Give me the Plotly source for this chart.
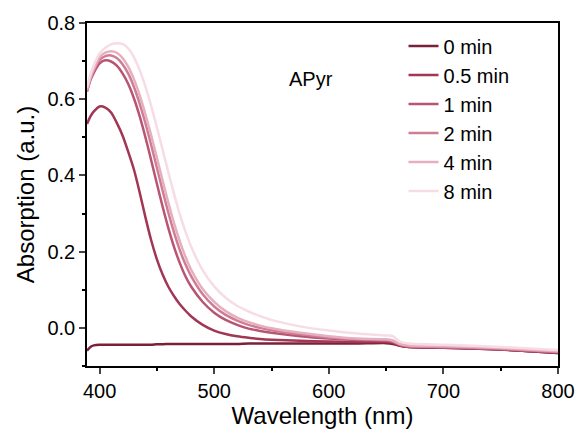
import plotly.graph_objects as go

wavelength = [389, 392, 395, 400, 405, 410, 415, 420, 425, 430, 435, 440, 445, 450, 455, 460, 465,
              470, 475, 480, 490, 500, 510, 520, 530, 540, 550, 575, 600, 625, 650, 656,
              662, 670, 700, 750, 800]

abs_0min = [-0.060, -0.050, -0.046, -0.044, -0.044, -0.044, -0.044, -0.044, -0.044, -0.044, -0.044,
            -0.044, -0.044, -0.043, -0.043, -0.042, -0.042, -0.042, -0.042, -0.042, -0.042, -0.042,
            -0.042, -0.042, -0.041, -0.041, -0.041, -0.041, -0.041, -0.041, -0.040, -0.042,
            -0.047, -0.050, -0.052, -0.057, -0.066]
abs_05min = [0.535, 0.555, 0.568, 0.581, 0.578, 0.565, 0.538, 0.505, 0.462, 0.415, 0.355, 0.290,
             0.230, 0.180, 0.140, 0.108, 0.083, 0.062, 0.045, 0.030, 0.008, -0.007, -0.016,
             -0.022, -0.026, -0.029, -0.031, -0.034, -0.036, -0.037, -0.037, -0.039,
             -0.046, -0.050, -0.052, -0.057, -0.066]
abs_1min = [0.620, 0.650, 0.670, 0.694, 0.702, 0.699, 0.688, 0.668, 0.640, 0.602, 0.555, 0.500,
            0.440, 0.378, 0.318, 0.262, 0.212, 0.170, 0.135, 0.108, 0.068, 0.040, 0.021,
            0.008, -0.002, -0.008, -0.013, -0.022, -0.028, -0.032, -0.034, -0.037,
            -0.045, -0.049, -0.051, -0.056, -0.064]
abs_2min = [0.622, 0.654, 0.676, 0.703, 0.713, 0.715, 0.708, 0.692, 0.667, 0.632, 0.588, 0.537,
            0.480, 0.420, 0.360, 0.302, 0.250, 0.204, 0.166, 0.135, 0.088, 0.056, 0.034,
            0.019, 0.008, 0.000, -0.006, -0.017, -0.025, -0.030, -0.032, -0.035,
            -0.044, -0.048, -0.050, -0.055, -0.063]
abs_4min = [0.624, 0.657, 0.680, 0.710, 0.722, 0.726, 0.722, 0.708, 0.685, 0.652, 0.610, 0.560,
            0.505, 0.446, 0.386, 0.328, 0.274, 0.227, 0.186, 0.152, 0.102, 0.068, 0.044,
            0.027, 0.015, 0.006, -0.001, -0.013, -0.022, -0.028, -0.030, -0.033,
            -0.042, -0.046, -0.048, -0.053, -0.061]
abs_8min = [0.630, 0.665, 0.690, 0.720, 0.735, 0.744, 0.747, 0.745, 0.733, 0.710, 0.676, 0.633,
            0.582, 0.526, 0.467, 0.408, 0.351, 0.298, 0.252, 0.212, 0.151, 0.109, 0.079,
            0.058, 0.043, 0.031, 0.021, 0.004, -0.007, -0.015, -0.020, -0.022,
            -0.036, -0.041, -0.044, -0.050, -0.058]

series_names = ["0 min", "0.5 min", "1 min", "2 min", "4 min", "8 min"]
series_values = [abs_0min, abs_05min, abs_1min, abs_2min, abs_4min, abs_8min]
colors = ["#7b2039", "#a13655", "#b85474", "#cf7d95", "#e6afbf", "#f6dde5"]

x_ticks = [400, 500, 600, 700, 800]
y_ticks = [0.0, 0.2, 0.4, 0.6, 0.8]

fig = go.Figure()
for name, vals, col in zip(series_names, series_values, colors):
    fig.add_trace(go.Scatter(x=wavelength, y=vals, name=name, mode="lines",
                             line=dict(color=col, width=2.5, shape="spline", smoothing=0.6)))

font = "Liberation Sans, Arial, sans-serif"
fig.update_layout(
    width=587, height=434,
    margin=dict(l=87, r=24, t=22, b=62),
    plot_bgcolor="white", paper_bgcolor="white",
    font=dict(family=font, size=20, color="black"),
    showlegend=True,
    legend=dict(x=0.672, y=0.99, xanchor="left", yanchor="top",
                bgcolor="rgba(0,0,0,0)", font=dict(family=font, size=20), tracegroupgap=0),
    annotations=[dict(text="APyr", x=0.475, y=0.875, xref="paper", yref="paper",
                      showarrow=False, font=dict(size=20, family=font))],
)
fig.update_xaxes(range=[389, 800], tickvals=x_ticks, ticks="outside", ticklen=6, tickwidth=1.5,
                 showline=True, linecolor="black", linewidth=1.5, mirror=True, showgrid=False,
                 zeroline=False, title=dict(text="Wavelength (nm)", standoff=3),
                 minor=dict(dtick=50, tick0=400, ticks="outside", ticklen=3, tickcolor="black"))
fig.update_yaxes(range=[-0.1, 0.8], tickvals=y_ticks, tickformat=".1f", ticks="outside", ticklen=6,
                 tickwidth=1.5, showline=True, linecolor="black", linewidth=1.5, mirror=True,
                 showgrid=False, zeroline=False,
                 title=dict(text="Absorption (a.u.)", standoff=6),
                 minor=dict(dtick=0.1, tick0=0, ticks="outside", ticklen=3, tickcolor="black"))

fig.write_html("out.html")
